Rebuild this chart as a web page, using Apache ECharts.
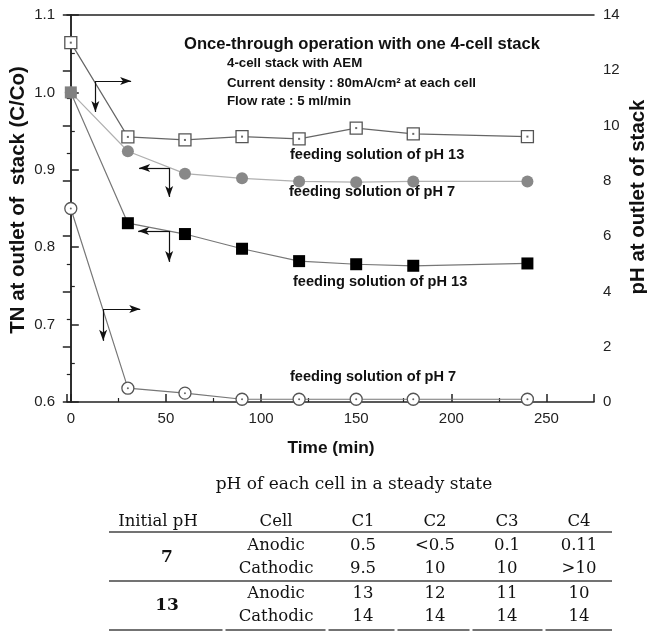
<!DOCTYPE html>
<html><head><meta charset="utf-8">
<script src="https://cdn.jsdelivr.net/npm/echarts@6/dist/echarts.min.js"></script>
<style>html,body{margin:0;padding:0;background:#fff}#c{width:647px;height:633px}</style>
</head><body><div id="c"></div>
<script>
// ---- data ----
const times = [0, 30, 60, 90, 120, 150, 180, 240];
const phFeed13 = [13.0, 9.59, 9.48, 9.6, 9.52, 9.91, 9.7, 9.6];      // open squares, right axis (pH)
const tnFeed7 = [1.0, 0.924, 0.895, 0.889, 0.885, 0.884, 0.885, 0.885]; // grey circles, left axis (TN)
const tnFeed13 = [1.0, 0.831, 0.817, 0.798, 0.782, 0.778, 0.776, 0.779]; // black squares, left axis (TN)
const phFeed7 = [7.0, 0.5, 0.32, 0.1, 0.1, 0.1, 0.1, 0.1];            // open circles, right axis (pH)
const xTicks = [0, 50, 100, 150, 200, 250];
// annotation arrows in data units (x: time, y: TN)
const arrows = [
  [[12.9, 1.0147], [31.7, 1.0147]], [[12.9, 1.0147], [12.9, 0.9747]],
  [[51.7, 0.9023], [35.9, 0.9023]], [[51.7, 0.9023], [51.7, 0.8649]],
  [[51.7, 0.821], [35.4, 0.821]], [[51.7, 0.821], [51.7, 0.781]],
  [[17.0, 0.720], [36.5, 0.720]], [[17.0, 0.720], [17.0, 0.679]]
];
const tableTitle = 'pH of each cell in a steady state';
const tableHeader = ['Initial pH', 'Cell', 'C1', 'C2', 'C3', 'C4'];
const initialPH = ['7', '13'];
const cellTypes = ['Anodic', 'Cathodic'];
const ph7Anodic = ['0.5', '<0.5', '0.1', '0.11'];
const ph7Cathodic = ['9.5', '10', '10', '>10'];
const ph13Anodic = ['13', '12', '11', '10'];
const ph13Cathodic = ['14', '14', '14', '14'];

// ---- build ----
const pair = (xs, ys) => xs.map((x, i) => [x, ys[i]]);
const SANS = '"Liberation Sans", Arial, sans-serif';
const SERIF = '"DejaVu Serif", serif';
const axisLine = { show: true, lineStyle: { color: '#222', width: 1.5 } };

const chart = echarts.init(document.getElementById('c'));

const graphics = [];
function txt(x, y, text, font, align, extra) {
  graphics.push(Object.assign({
    type: 'text', x: x, y: y, silent: true,
    style: { text: text, font: font, fill: '#111', textAlign: align || 'left', textVerticalAlign: 'middle' }
  }, extra || {}));
}
// chart annotations
txt(184, 44, 'Once-through operation with one 4-cell stack', 'bold 16.6px ' + SANS);
txt(227, 63, '4-cell stack with AEM', 'bold 13.3px ' + SANS);
txt(227, 83, 'Current density : 80mA/cm\u00B2 at each cell', 'bold 13.3px ' + SANS);
txt(227, 101, 'Flow rate : 5 ml/min', 'bold 13.3px ' + SANS);
txt(290, 155, 'feeding solution of pH 13', 'bold 14.6px ' + SANS);
txt(289, 192, 'feeding solution of pH 7', 'bold 14.6px ' + SANS);
txt(293, 282, 'feeding solution of pH 13', 'bold 14.6px ' + SANS);
txt(290, 377, 'feeding solution of pH 7', 'bold 14.6px ' + SANS);
// axis titles
txt(18, 200, 'TN at outlet of  stack (C/Co)', 'bold 20.4px ' + SANS, 'center', { rotation: Math.PI / 2 });
txt(638, 197, 'pH at outlet of stack', 'bold 20.4px ' + SANS, 'center', { rotation: Math.PI / 2 });
txt(331, 448, 'Time (min)', 'bold 17.3px ' + SANS, 'center');

// table
const colX = [158, 276, 363, 435, 507, 579];
const tFont = '16.5px ' + SERIF;
txt(354, 485, tableTitle, '17px ' + SERIF, 'center');
tableHeader.forEach((h, i) => txt(colX[i], 522, h, tFont, 'center'));
const rowsY = [546, 569, 594, 617];
const rowVals = [ph7Anodic, ph7Cathodic, ph13Anodic, ph13Cathodic];
rowVals.forEach((vals, r) => {
  txt(colX[1], rowsY[r], cellTypes[r % 2], tFont, 'center');
  vals.forEach((v, c) => txt(colX[c + 2], rowsY[r], v, tFont, 'center'));
});
initialPH.forEach((p, g) => txt(colX[0] + 9, (rowsY[g * 2] + rowsY[g * 2 + 1]) / 2 + 0.5, p, 'bold 17px ' + SERIF, 'center'));
const hLine = (x1, x2, y) => graphics.push({ type: 'line', silent: true, shape: { x1: x1, y1: y, x2: x2, y2: y },
  style: { stroke: '#444', lineWidth: 1.5 } });
hLine(109, 612, 532);
hLine(109, 612, 581);
// bottom rule drawn per column, with small gaps between columns
const colEdges = [109, 224, 327, 396, 471, 544, 612];
for (let i = 0; i < colEdges.length - 1; i++) hLine(colEdges[i] + (i ? 1.5 : 0), colEdges[i + 1] - (i < colEdges.length - 2 ? 1.5 : 0), 630);

const xCommon = { type: 'value', min: -2, max: 275, minInterval: 50, maxInterval: 50 };
const tick = { show: true, inside: true, length: 8, lineStyle: { color: '#222', width: 1.5 } };
const minor = { show: true, splitNumber: 2, length: 4, lineStyle: { color: '#222', width: 1.2 } };

chart.setOption({
  animation: false,
  backgroundColor: '#fff',
  grid: { left: 67, right: 53, top: 15, bottom: 231, containLabel: false },
  xAxis: [
    Object.assign({}, xCommon, {
      position: 'bottom', axisLine: axisLine, axisTick: tick, minorTick: minor, splitLine: { show: false },
      axisLabel: { show: true, margin: 9, color: '#222', fontSize: 15, fontFamily: SANS,
        formatter: v => (xTicks.indexOf(Math.round(v)) >= 0 && Math.abs(v - Math.round(v)) < 1e-6) ? String(Math.round(v)) : '' }
    }),
    Object.assign({}, xCommon, {
      position: 'top', axisLine: axisLine, axisTick: { show: false }, axisLabel: { show: false }, splitLine: { show: false }
    })
  ],
  yAxis: [
    { type: 'value', min: 0.6, max: 1.1, interval: 0.1, position: 'left',
      axisLine: axisLine, axisTick: tick, minorTick: minor, splitLine: { show: false },
      axisLabel: { margin: 12, color: '#222', fontSize: 15, fontFamily: SANS, formatter: v => v.toFixed(1) } },
    { type: 'value', min: 0, max: 14, interval: 2, position: 'right',
      axisLine: axisLine, axisTick: tick, minorTick: minor, splitLine: { show: false },
      axisLabel: { margin: 9, color: '#222', fontSize: 15, fontFamily: SANS } }
  ],
  series: [
    { name: 'pH7 pH', type: 'line', xAxisIndex: 0, yAxisIndex: 1, data: pair(times, phFeed7),
      symbol: 'circle', symbolSize: 12, showAllSymbol: true,
      lineStyle: { color: '#777', width: 1.2 },
      itemStyle: { color: '#fff', borderColor: '#555', borderWidth: 1.3 }, z: 3 },
    { name: 'pH7 pH dots', type: 'scatter', xAxisIndex: 0, yAxisIndex: 1, data: pair(times, phFeed7),
      symbol: 'circle', symbolSize: 2, itemStyle: { color: '#444' }, z: 4, silent: true },
    { name: 'pH7 TN', type: 'line', xAxisIndex: 0, yAxisIndex: 0, data: pair(times, tnFeed7),
      symbol: 'circle', symbolSize: 12, showAllSymbol: true,
      lineStyle: { color: '#b0b0b0', width: 1.2 },
      itemStyle: { color: '#888', borderColor: '#888', borderWidth: 0 }, z: 3 },
    { name: 'pH13 TN', type: 'line', xAxisIndex: 0, yAxisIndex: 0,
      data: pair(times, tnFeed13).map((d, i) => i === 0 ? { value: d, itemStyle: { color: '#808080' } } : d),
      symbol: 'rect', symbolSize: 12, showAllSymbol: true,
      lineStyle: { color: '#777', width: 1.2 },
      itemStyle: { color: '#000' }, z: 4,
      markLine: { silent: true, symbol: ['none', 'arrow'], symbolSize: [6, 11], animation: false,
        label: { show: false }, lineStyle: { color: '#111', width: 1.2, type: 'solid' },
        emphasis: { disabled: true },
        data: arrows.map(a => [{ coord: a[0], symbol: 'none' }, { coord: a[1] }]) } },
    { name: 'pH13 pH', type: 'line', xAxisIndex: 0, yAxisIndex: 1, data: pair(times, phFeed13),
      symbol: 'rect', symbolSize: 12, showAllSymbol: true,
      lineStyle: { color: '#666', width: 1.2 },
      itemStyle: { color: '#fff', borderColor: '#555', borderWidth: 1.3 }, z: 3 },
    { name: 'pH13 pH dots', type: 'scatter', xAxisIndex: 0, yAxisIndex: 1, data: pair(times, phFeed13),
      symbol: 'rect', symbolSize: 2, itemStyle: { color: '#444' }, z: 4, silent: true }
  ],
  graphic: graphics
});
</script></body></html>
